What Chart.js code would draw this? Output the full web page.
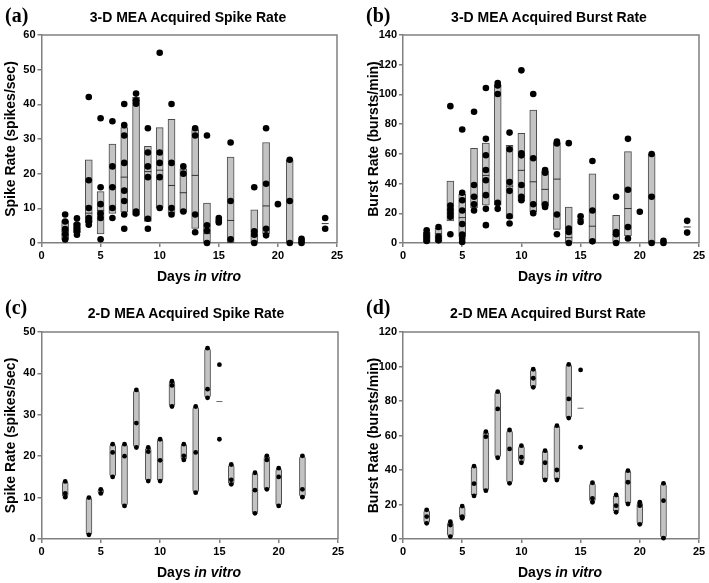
<!DOCTYPE html>
<html>
<head>
<meta charset="utf-8">
<script src="https://cdn.jsdelivr.net/npm/chart.js@4"></script>
<style>
body{margin:0;background:#fff}
#wrap{position:relative;width:709px;height:583px;overflow:hidden;background:#fff;font-family:Arial,'Liberation Sans',sans-serif}
canvas{position:absolute}
.lab{position:absolute;font:bold 20px 'Liberation Serif','Times New Roman',serif;line-height:22px}
.ttl{position:absolute;width:300px;text-align:center;font-weight:bold;font-size:14px;line-height:16px}
.xt{position:absolute;width:200px;text-align:center;font-weight:bold;font-size:14px;line-height:16px}
</style>
</head>
<body>
<div id="wrap">
  <canvas id="ca" width="354" height="290" style="left:0;top:0"></canvas>
  <canvas id="cb" width="355" height="290" style="left:354px;top:0"></canvas>
  <canvas id="cc" width="354" height="293" style="left:0;top:290px"></canvas>
  <canvas id="cd" width="355" height="293" style="left:354px;top:290px"></canvas>
  <div class="lab" style="left:5px;top:4px">(a)</div>
  <div class="lab" style="left:366px;top:4px">(b)</div>
  <div class="lab" style="left:5px;top:296px">(c)</div>
  <div class="lab" style="left:366px;top:296px">(d)</div>
  <div class="ttl" style="left:38px;top:9px">3-D MEA Acquired Spike Rate</div>
  <div class="ttl" style="left:399px;top:9px">3-D MEA Acquired Burst Rate</div>
  <div class="ttl" style="left:36px;top:305px">2-D MEA Acquired Spike Rate</div>
  <div class="ttl" style="left:398px;top:305px">2-D MEA Acquired Burst Rate</div>
  <div class="xt" style="left:99px;top:268px">Days <i>in vitro</i></div>
  <div class="xt" style="left:460px;top:268px">Days <i>in vitro</i></div>
  <div class="xt" style="left:99px;top:564px">Days <i>in vitro</i></div>
  <div class="xt" style="left:460px;top:564px">Days <i>in vitro</i></div>
</div>
<script>
// (a) 3-D spike rate
var daysA = [2, 3, 4, 5, 6, 7, 8, 9, 10, 11, 12, 13, 14, 15, 16, 18, 19, 20, 21, 22, 24];
var boxLoA = [1.0, 3.0, 5.9, 2.6, 8.5, 8.9, 8.0, 6.2, 10.1, 8.5, 8.9, 4.2, 0.1, null, 0.1, 0, 2.7, null, 0, null, null];
var boxHiA = [6.5, 5.8, 24.0, 14.8, 28.5, 33.3, 42.0, 27.9, 33.3, 35.7, 21.4, 32.7, 11.5, null, 24.8, 9.6, 29.0, null, 24.0, null, null];
var medA = [3.4, 4.0, 8.6, 9.4, 16.1, 19.0, 41.1, 20.6, 21.0, 16.6, 14.5, 19.5, 2.7, null, 6.5, 2.0, 10.7, null, 12.1, null, 5.6];
var ptsA = [
  [8.2, 6.2, 4.0, 2.5, 1.0], [7.1, 5.3, 4.3, 3.4, 2.4], [42.1, 18.1, 10.1, 7.2, 6.3, 5.3],
  [36.0, 16.1, 11.2, 8.5, 7.2, 1.1], [35.1, 22.1, 16.1, 10.1, 7.2], [40.1, 34.0, 31.0, 23.1, 15.1, 12.1, 8.2, 4.1],
  [43.1, 41.1, 40.2, 9.1, 8.5], [33.1, 26.1, 22.1, 19.0, 7.0, 4.1], [54.9, 26.1, 23.1, 19.0, 10.1],
  [40.1, 23.1, 10.1, 8.2], [22.1, 20.0, 9.1], [33.1, 31.0, 8.2, 3.1], [31.0, 5.1, 3.5, 0],
  [7.2, 6.5, 5.9], [29.0, 12.1, 1.1], [16.1, 3.4, 2.4, 0], [33.1, 17.1, 4.1, 2.2], [11.2],
  [24.0, 12.1, 0], [1.2, 0.6, 0], [7.2, 4.1]
];

// (b) 3-D burst rate
var daysB = [2, 3, 4, 5, 6, 7, 8, 9, 10, 11, 12, 13, 14, 15, 16, 18, 19, 20, 21, 22, 24];
var boxLoB = [0.7, 0.7, 14.9, 4.1, 23.6, 25.5, 25.5, 16.5, 28.4, 21.0, 24.8, 9.1, 0, null, 0, 0, 4.7, null, 0, null, null];
var boxHiB = [7.4, 9.9, 41.7, 32.7, 63.8, 67.2, 106.4, 65.8, 73.9, 89.5, 48.6, 67.6, 24.1, null, 46.6, 18.7, 61.5, null, 59.9, null, null];
var medB = [4.5, 6.3, 22.5, 17.1, 31.1, 45.5, 106.0, 38.3, 48.9, 41.2, 36.1, 43.0, 3.6, 16.0, 11.3, 5.9, 23.2, null, 31.1, null, 10.8];
var ptsB = [
  [8.6, 5.9, 3.6, 1.4], [10.8, 4.1, 1.8], [92.1, 25.2, 22.5, 20.1, 17.6, 5.9],
  [76.4, 33.8, 28.8, 21.9, 12.8, 5.7, 3.0, 0.7], [88.3, 39.0, 31.1, 26.1, 21.9],
  [104.3, 70.1, 59.1, 49.1, 42.2, 32.2, 23.0, 12.0], [107.7, 106.0, 100.3, 27.0, 23.0],
  [74.3, 63.1, 41.0, 35.1, 18.0, 13.1], [116.2, 60.4, 59.0, 39.0, 31.1, 28.8],
  [100.3, 57.0, 26.1, 20.1], [49.1, 47.3, 26.1, 24.3], [68.2, 67.0, 19.2, 5.9],
  [67.2, 9.7, 7.4, 0], [18.0, 14.2], [55.2, 21.9, 1.1], [31.1, 7.4, 5.9, 0],
  [70.1, 35.8, 10.8, 3.0], [21.0], [59.9, 31.1, 0], [1.5, 0], [14.9, 7.0]
];

// (c) 2-D spike rate
var daysC = [2, 4, 5, 6, 7, 8, 9, 10, 11, 12, 13, 14, 15, 16, 18, 19, 20, 22];
var boxLoC = [10.1, 1.0, 11.0, 15.0, 8.0, 22.1, 14.0, 14.0, 32.0, 19.1, 11.2, 34.1, null, 13.2, 6.2, 12.0, 8.0, 10.1];
var boxHiC = [13.9, 10.0, 12.0, 22.9, 22.9, 36.0, 22.1, 24.1, 38.1, 22.9, 32.0, 46.1, null, 18.0, 16.0, 20.1, 17.1, 20.1];
var medC = [null, null, null, null, null, null, null, null, null, null, null, null, 33.2, null, null, null, null, null];
var ptsC = [
  [13.9, 11.0, 10.1], [10.0, 1.0], [12.0, 11.0], [22.9, 20.9, 15.0], [22.9, 20.0, 8.0],
  [36.0, 28.0, 22.1], [22.1, 21.1, 14.0], [24.1, 19.0, 14.0], [38.1, 37.1, 32.0],
  [22.9, 20.1, 19.1], [32.0, 20.9, 11.2], [46.1, 36.2, 34.1], [42.1, 24.1],
  [18.0, 14.3, 13.2], [16.0, 11.8, 6.2], [20.1, 19.1, 12.0], [17.1, 15.0, 8.0], [20.1, 12.0, 10.1]
];

// (d) 2-D burst rate
var daysD = [2, 4, 5, 6, 7, 8, 9, 10, 11, 12, 13, 14, 15, 16, 18, 19, 20, 22];
var boxLoD = [9.1, 1.4, 12.0, 25.0, 28.0, 47.1, 32.3, 44.2, 87.9, 34.2, 34.2, 70.1, null, 21.3, 15.5, 20.3, 8.5, 0.5];
var boxHiD = [16.9, 10.0, 19.1, 42.3, 62.2, 85.4, 63.2, 54.1, 98.4, 51.2, 65.7, 101.2, null, 32.6, 25.5, 39.6, 21.3, 32.3];
var medD = [null, null, null, null, null, null, null, null, null, null, null, null, 75.8, null, null, null, null, null];
var ptsD = [
  [16.9, 13.0, 9.1], [10.0, 8.1, 1.4], [19.1, 12.9, 12.0], [42.3, 32.1, 25.0], [62.2, 59.3, 28.0],
  [85.4, 75.4, 47.1], [63.2, 52.2, 32.3], [54.1, 47.4, 44.2], [98.4, 93.2, 87.9],
  [51.2, 44.2, 34.2], [65.7, 40.0, 34.2], [101.2, 81.2, 70.1], [98.0, 53.2],
  [32.6, 23.6, 21.3], [25.5, 19.3, 15.5], [39.6, 32.9, 20.3], [21.3, 19.3, 8.5], [32.3, 22.2, 0.5]
];

Chart.defaults.font.family = "Arial, 'Liberation Sans', sans-serif";
Chart.defaults.color = '#000';

var AXIS = '#808080';

// top and right edges of the plot box
var frame = {
  id: 'frame',
  beforeDatasetsDraw: function (chart) {
    var a = chart.chartArea, c = chart.ctx;
    c.save();
    c.strokeStyle = AXIS;
    c.lineWidth = 1.5;
    c.beginPath();
    c.moveTo(a.left, a.top);
    c.lineTo(a.right, a.top);
    c.lineTo(a.right, a.bottom);
    c.stroke();
    c.restore();
  }
};

function panel(id, o) {
  var bars = [], meds = [], dots = [];
  o.days.forEach(function (d, i) {
    if (o.lo[i] !== null) bars.push({x: d, y: [o.lo[i], o.hi[i]]});
    if (o.med[i] !== null) meds.push({x: d, y: o.med[i]});
    o.pts[i].forEach(function (v) { dots.push({x: d, y: v}); });
  });
  var ctx = document.getElementById(id).getContext('2d');
  return new Chart(ctx, {
    type: 'scatter',
    data: {
      datasets: [
        {
          type: 'bar',
          data: bars,
          backgroundColor: '#c3c3c3',
          borderColor: '#4a4a4a',
          borderWidth: 1,
          borderSkipped: false,
          borderRadius: o.round,
          barThickness: o.barW,
          order: 3
        },
        {
          data: meds,
          pointStyle: 'line',
          pointRadius: o.barW / 2,
          pointBorderColor: o.medColor,
          pointBorderWidth: 1,
          clip: false,
          order: 2
        },
        {
          data: dots,
          pointRadius: o.dotR,
          pointBackgroundColor: '#000',
          pointBorderWidth: 0,
          clip: false,
          order: 1
        }
      ]
    },
    options: {
      responsive: false,
      animation: false,
      events: [],
      layout: {padding: {left: 0, top: o.top, right: o.right, bottom: o.bottom}},
      plugins: {legend: {display: false}, tooltip: {enabled: false}},
      scales: {
        x: {
          type: 'linear', min: 0, max: 25, offset: false,
          afterFit: function (s) { s.height = 20; },
          ticks: {stepSize: 5, padding: 2, maxRotation: 0, font: {size: 11, weight: 'bold'}},
          grid: {offset: false, drawOnChartArea: false, tickLength: 4, color: AXIS, lineWidth: 1.5},
          border: {color: AXIS, width: 1.5}
        },
        y: {
          min: 0, max: o.yMax,
          afterFit: function (s) { s.width = o.yW; },
          ticks: {stepSize: o.yStep, padding: 2, font: {size: 11, weight: 'bold'}},
          grid: {drawOnChartArea: false, tickLength: 4, color: AXIS, lineWidth: 1.5},
          border: {color: AXIS, width: 1.5},
          title: {display: true, text: o.yTitle, font: {size: 14, weight: 'bold'}, padding: {top: o.tPad, bottom: 0}}
        }
      }
    },
    plugins: [frame]
  });
}

panel('ca', {days: daysA, lo: boxLoA, hi: boxHiA, med: medA, pts: ptsA, yMax: 60, yStep: 10,
  yTitle: 'Spike Rate (spikes/sec)', yW: 41.5, tPad: 3, top: 35, right: 17, bottom: 27,
  barW: 7, round: 0, dotR: 3.3, medColor: '#333'});
panel('cb', {days: daysB, lo: boxLoB, hi: boxHiB, med: medB, pts: ptsB, yMax: 140, yStep: 20,
  yTitle: 'Burst Rate (bursts/min)', yW: 49, tPad: 11.5, top: 35, right: 10, bottom: 27,
  barW: 7, round: 0, dotR: 3.3, medColor: '#333'});
panel('cc', {days: daysC, lo: boxLoC, hi: boxHiC, med: medC, pts: ptsC, yMax: 50, yStep: 10,
  yTitle: 'Spike Rate (spikes/sec)', yW: 41.5, tPad: 3, top: 42, right: 16, bottom: 24,
  barW: 6, round: 3, dotR: 2.4, medColor: '#666'});
panel('cd', {days: daysD, lo: boxLoD, hi: boxHiD, med: medD, pts: ptsD, yMax: 120, yStep: 20,
  yTitle: 'Burst Rate (bursts/min)', yW: 49, tPad: 11.5, top: 42, right: 10, bottom: 24,
  barW: 6, round: 3, dotR: 2.4, medColor: '#666'});
</script>
</body>
</html>
